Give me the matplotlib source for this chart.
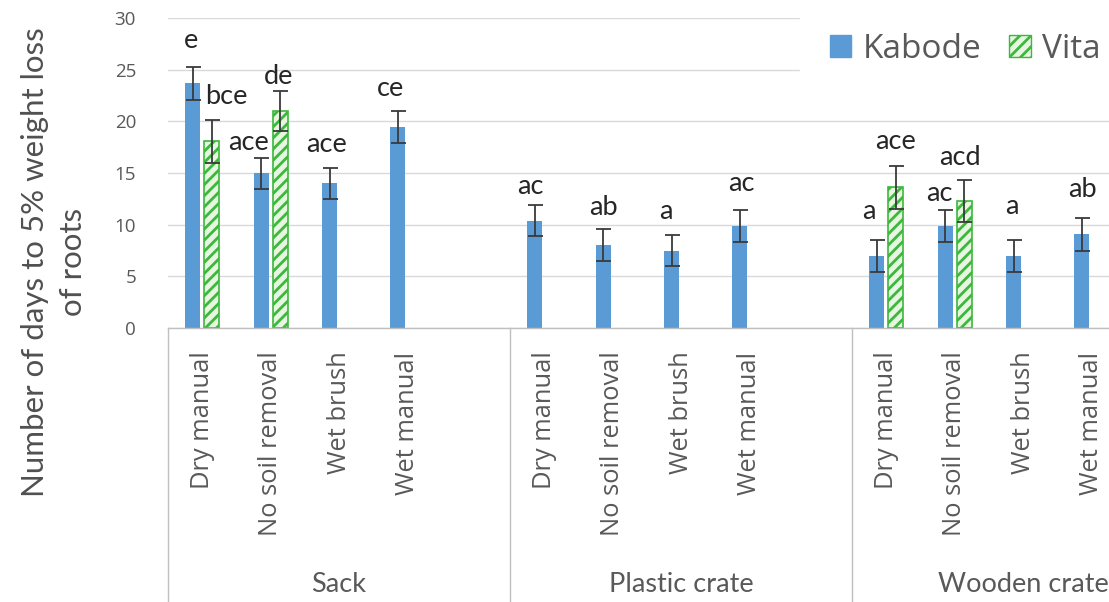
import numpy as np
import matplotlib.pyplot as plt
from matplotlib.patches import Patch
from matplotlib.transforms import blended_transform_factory

# ---- data -------------------------------------------------------------
groups = ['Sack', 'Plastic crate', 'Wooden crate']
treatments = ['Dry manual', 'No soil removal', 'Wet brush', 'Wet manual']

# mean number of days to 5 % weight loss (3 stores x 4 treatments)
kabode = [23.7, 15.0, 14.0, 19.45,
          10.4, 8.05, 7.5, 9.85,
          6.95, 9.85, 6.95, 9.05]
kabode_err = [1.6, 1.5, 1.5, 1.55,
              1.5, 1.55, 1.5, 1.55,
              1.55, 1.55, 1.55, 1.55]
vita = [18.05, 21.0, None, None,
        None, None, None, None,
        13.6, 12.3, None, None]
vita_err = [2.1, 1.9, None, None,
            None, None, None, None,
            2.05, 2.0, None, None]

kabode_letters = ['e', 'ace', 'ace', 'ce',
                  'ac', 'ab', 'a', 'ac',
                  'a', 'ac', 'a', 'ab']
vita_letters = ['bce', 'de', None, None,
                None, None, None, None,
                'ace', 'acd', None, None]

# ---- layout / style ---------------------------------------------------
# letter placement (pixel offset from the top of each bar)
kabode_nudge = [(-2, 43), (-13, 30), (-3, 39), (-7, 39),
                (-4, 34), (0, 37), (-6, 39), (1, 43),
                (-8, 45), (-6, 33), (-2, 50), (0, 45)]
vita_nudge = [(15, 45), (-1, 34), None, None,
              None, None, None, None,
              (0, 46), (-4, 43), None, None]

BLUE = '#5b9bd5'
GREEN = '#3cb83c'
GREEN_FILL = '#e6f6e0'
GRID = '#d9d9d9'
AXIS = '#bfbfbf'
TXT = '#595959'
LABEL = '#262626'

plt.rcParams['hatch.linewidth'] = 2.0
plt.rcParams['hatch.color'] = GREEN

W, H = 1109, 602
fig = plt.figure(figsize=(W / 100, H / 100), dpi=100)

slot_px = 68.4           # width of one category slot
slots = len(treatments) + 1   # an empty slot closes each group
n_slots = len(groups) * slots
left_px, zero_px, top_px = 168, 328, 18
ax = fig.add_axes([left_px / W, 1 - zero_px / H,
                   n_slots * slot_px / W, (zero_px - top_px) / H])

bar_w = 0.22
shift = 0.138
n = len(kabode)
pos = np.array([(i // len(treatments)) * slots + i % len(treatments) for i in range(n)], float)

ax.set_xlim(-0.5, n_slots - 0.5)
ax.set_ylim(0, 30)
ax.set_yticks(np.arange(0, 31, 5))
ax.grid(axis='y', color=GRID, lw=1.0)
ax.set_axisbelow(True)
for s in ['left', 'right', 'top']:
    ax.spines[s].set_visible(False)
ax.spines['bottom'].set_color(AXIS)
ax.spines['bottom'].set_linewidth(1.0)

err_kw = dict(ecolor='#3a3a3a', elinewidth=1.3, capsize=5.4, capthick=1.3)

ax.bar(pos - shift, kabode, bar_w, color=BLUE, yerr=kabode_err,
       error_kw=err_kw, label='Kabode', zorder=2)

v_idx = [i for i in range(n) if vita[i] is not None]
ax.bar(pos[v_idx] + shift, [vita[i] for i in v_idx], bar_w,
       facecolor=GREEN_FILL, edgecolor=GREEN, linewidth=1.2, hatch='///',
       yerr=[vita_err[i] for i in v_idx], error_kw=err_kw, label='Vita', zorder=2)

lab_font = dict(family='Lato', fontsize=19.5, color=LABEL)
for i in range(n):
    dx, dy = kabode_nudge[i]
    ax.annotate(kabode_letters[i], xy=(pos[i] - shift, kabode[i]),
                xytext=(dx, dy), textcoords='offset pixels',
                ha='center', va='center', annotation_clip=False, **lab_font)
for i in v_idx:
    dx, dy = vita_nudge[i]
    ax.annotate(vita_letters[i], xy=(pos[i] + shift, vita[i]),
                xytext=(dx, dy), textcoords='offset pixels',
                ha='center', va='center', annotation_clip=False, **lab_font)

# y axis
ax.tick_params(axis='y', length=0, pad=23, labelsize=13.5, labelcolor=TXT)
for t in ax.get_yticklabels():
    t.set_family('Open Sans')

# category axis: treatments, then stores
ax.set_xticks(pos)
ax.set_xticklabels(treatments * len(groups), rotation=90, va='top', ha='center',
                   family='Open Sans', fontsize=18.4, color=TXT)
ax.tick_params(axis='x', length=0, pad=17)

trans = blended_transform_factory(ax.transData, ax.transAxes)
for g in range(len(groups) + 1):
    xs = g * slots - 0.5
    ax.plot([xs, xs], [0, -1.0], transform=trans, color=AXIS, lw=1.0,
            clip_on=False, zorder=1)
for g, name in enumerate(groups):
    ax.text(g * slots + (slots - 1) / 2, -0.829, name, transform=trans,
            ha='center', va='center', family='Lato', fontsize=19.5, color=TXT)

fig.text(54 / W, 1 - 262 / H, 'Number of days to 5% weight loss\nof roots',
         rotation=90, ha='center', va='center', family='Lato', fontsize=22.5,
         color='#505050', linespacing=1.45, multialignment='center')

handles = [Patch(facecolor=BLUE, edgecolor=BLUE),
           Patch(facecolor=GREEN_FILL, edgecolor=GREEN, hatch='///')]
leg = fig.legend(handles, ['Kabode', 'Vita'], loc='center left',
                 bbox_to_anchor=(800 / W, 1 - 49 / H), bbox_transform=fig.transFigure,
                 ncol=2, frameon=True, fancybox=False, framealpha=1,
                 facecolor='white', edgecolor='white',
                 prop=dict(family='Open Sans', size=24), labelcolor=TXT,
                 handlelength=0.64, handleheight=0.64, handletextpad=0.33,
                 columnspacing=0.85, borderpad=0.9, borderaxespad=0)

fig.savefig('out.png', dpi=100)
